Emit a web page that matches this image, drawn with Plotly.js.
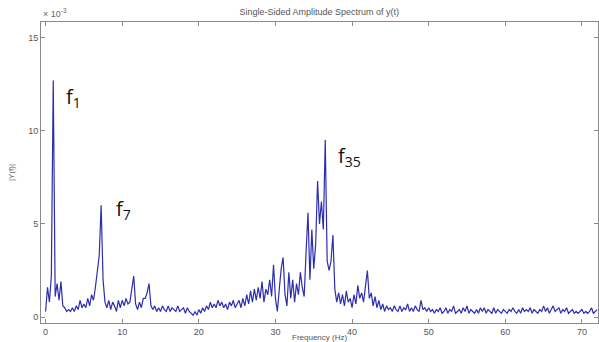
<!DOCTYPE html>
<html>
<head>
<meta charset="utf-8">
<script src="https://cdn.plot.ly/plotly-3.0.1.min.js"></script>
<style>html,body{margin:0;padding:0;background:#fff}#chart{width:599px;height:342px}</style>
</head>
<body>
<div id="chart"></div>
<script>
// Frequency grid (Hz): first bin and bin spacing
const freqStart = 0;
const freqStep = 0.25;
// |Y(f)| amplitude in units of 1e-3, one value per 0.25 Hz bin from 0 Hz to 72 Hz
const amplitude = [
  0.3, 1.6, 0.8, 2.2,
  12.7, 1.1, 1.8, 0.9,
  1.9, 0.6, 0.5, 0.3,
  0.4, 0.3, 0.5, 0.3,
  0.6, 0.4, 0.9, 0.5,
  0.7, 0.5, 1.0, 0.6,
  1.2, 0.9, 1.6, 2.6,
  3.3, 6.0, 2.0, 0.8,
  0.5, 0.9, 0.4, 0.8,
  0.6, 0.3, 0.9, 0.5,
  0.9, 0.6, 1.0, 0.7,
  0.8, 1.5, 2.2, 0.7,
  0.4, 0.8, 0.5, 1.0,
  1.0, 1.3, 1.8, 0.6,
  0.4, 0.6, 0.3, 0.5,
  0.3, 0.6, 0.4, 0.3,
  0.6, 0.3, 0.5, 0.4,
  0.3, 0.6, 0.3, 0.4,
  0.5, 0.2, 0.5, 0.3,
  0.2, 0.1, 0.3, 0.1,
  0.4, 0.2, 0.5, 0.3,
  0.6, 0.4, 0.8, 0.5,
  0.7, 0.5, 0.9, 0.6,
  0.8, 0.5, 0.7, 0.4,
  0.8, 0.6, 0.9, 0.5,
  0.7, 0.9, 0.5, 1.0,
  0.6, 1.2, 0.7, 1.4,
  0.8, 1.5, 0.9, 1.6,
  1.0, 1.9, 0.8, 1.5,
  1.2, 2.0, 1.1, 2.8,
  1.0, 0.3, 1.5, 2.6,
  3.2, 1.2, 0.6, 2.4,
  1.0, 2.0, 0.8, 1.8,
  1.2, 2.4, 1.6, 1.1,
  3.5, 5.6, 2.0, 4.7,
  2.6, 3.9, 7.3, 5.0,
  6.2, 4.7, 9.5, 3.0,
  2.5, 3.0, 4.4, 1.5,
  0.8, 1.3, 0.7, 1.2,
  0.6, 1.4, 0.8, 1.0,
  0.5, 1.2, 0.7, 1.7,
  1.0, 1.3, 0.8, 1.6,
  2.5, 1.0, 1.3, 0.6,
  1.1, 0.5, 0.9, 0.4,
  0.7, 0.3, 0.6, 0.4,
  0.5, 0.3, 0.6, 0.4,
  0.3, 0.6, 0.3, 0.5,
  0.4, 0.7, 0.3, 0.5,
  0.3, 0.6, 0.4, 0.3,
  0.9, 0.4, 0.5, 0.3,
  0.5, 0.3, 0.4, 0.2,
  0.4, 0.3, 0.5, 0.2,
  0.3, 0.5, 0.2, 0.4,
  0.3, 0.6, 0.2, 0.3,
  0.4, 0.2, 0.5, 0.3,
  0.6, 0.2, 0.4, 0.3,
  0.2, 0.4, 0.2, 0.5,
  0.3, 0.5, 0.2, 0.4,
  0.3, 0.2, 0.5, 0.2,
  0.4, 0.3, 0.2, 0.4,
  0.3, 0.2, 0.4, 0.3,
  0.5, 0.3, 0.2, 0.4,
  0.2, 0.5, 0.3, 0.4,
  0.3, 0.5, 0.2, 0.4,
  0.3, 0.2, 0.4, 0.3,
  0.6, 0.3, 0.5, 0.2,
  0.4, 0.6, 0.3, 0.4,
  0.5, 0.2, 0.4, 0.3,
  0.5, 0.2, 0.3, 0.4,
  0.2, 0.3, 0.2, 0.3,
  0.4, 0.2, 0.3, 0.2,
  0.3, 0.5, 0.2, 0.3,
  0.4
];
// Axis ticks
const xTicks = [0, 10, 20, 30, 40, 50, 60, 70];
const yTicks = [0, 5, 10, 15];
// Peak labels
const peakLabels = ["f<sub>1</sub>", "f<sub>7</sub>", "f<sub>35</sub>"];
const peakLabelX = [3.6, 10.2, 39.7];
const peakLabelY = [11.8, 5.8, 8.6];

const axisColor = "#8a8a8a";
const tickFont = {family: "Liberation Sans, Arial, sans-serif", size: 9, color: "#555"};

const trace = {
  type: "scatter",
  mode: "lines",
  x0: freqStart,
  dx: freqStep,
  y: amplitude,
  line: {color: "rgb(45,45,175)", width: 1.2},
  hoverinfo: "skip"
};

const annotations = peakLabels.map((t, i) => ({
  x: peakLabelX[i], y: peakLabelY[i], xref: "x", yref: "y",
  text: t, showarrow: false,
  font: {family: "Open Sans, sans-serif", size: 20, color: "#111"}
}));
annotations.push({
  xref: "paper", yref: "paper", x: 0, y: 1, yanchor: "bottom", xanchor: "left", yshift: 1,
  text: "× 10<sup>-3</sup>", showarrow: false,
  font: {family: "Liberation Sans, Arial, sans-serif", size: 9, color: "#666"}
});
annotations.push({
  xref: "paper", yref: "paper", x: 0.5, y: 0, yanchor: "top", xanchor: "center", yshift: -8,
  text: "Frequency (Hz)", showarrow: false,
  font: {family: "Liberation Sans, Arial, sans-serif", size: 8, color: "#555"}
});

const layout = {
  width: 599, height: 342,
  margin: {l: 41, r: 1, t: 22, b: 19, pad: 0},
  paper_bgcolor: "#fff", plot_bgcolor: "#fff",
  showlegend: false,
  title: {
    text: "Single-Sided Amplitude Spectrum of y(t)",
    x: 0.533, xanchor: "center", y: 0.965, yanchor: "middle",
    font: {family: "Liberation Sans, Arial, sans-serif", size: 9, color: "#555"}
  },
  xaxis: {
    range: [-0.6, 72.1],
    tickvals: xTicks, ticktext: xTicks.map(String),
    ticks: "inside", ticklen: 4, tickcolor: axisColor,
    showline: true, linecolor: axisColor, linewidth: 1, mirror: "ticks",
    showgrid: false, zeroline: false,
    tickfont: tickFont
  },
  yaxis: {
    range: [-0.32, 15.84],
    tickvals: yTicks, ticktext: yTicks.map(String),
    ticks: "inside", ticklen: 4, tickcolor: axisColor,
    showline: true, linecolor: axisColor, linewidth: 1, mirror: "ticks",
    showgrid: false, zeroline: false,
    tickfont: tickFont,
    title: {text: "|Y(f)|", standoff: 12, font: {family: "Liberation Sans, Arial, sans-serif", size: 8, color: "#666"}}
  },
  annotations: annotations
};

Plotly.newPlot("chart", [trace], layout, {staticPlot: true, displayModeBar: false});
</script>
</body>
</html>
